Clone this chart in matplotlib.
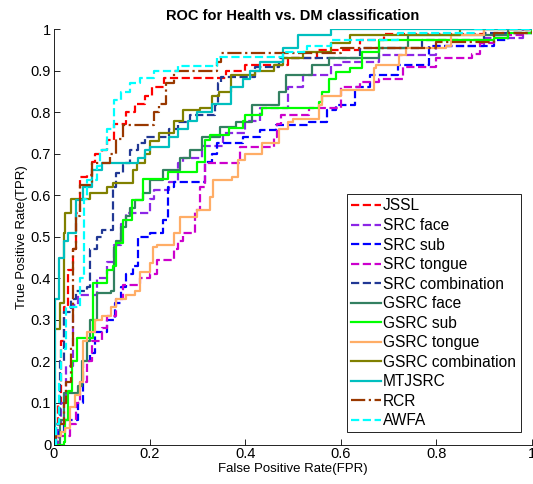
import matplotlib
matplotlib.use("Agg")
import matplotlib.pyplot as plt

plt.rcParams['font.family'] = ['Liberation Sans', 'DejaVu Sans']

# ROC operating points: at each fpr the tpr rises to the listed value
jssl_fpr = [0, 0.008, 0.015, 0.02, 0.03, 0.04, 0.045, 0.055, 0.068, 0.08, 0.085, 0.1, 0.11, 0.125, 0.15, 0.17, 0.19, 0.205, 0.23, 0.36, 0.4, 0.49, 0.55, 0.64, 0.69, 0.9, 1]
jssl_tpr = [0, 0.1, 0.25, 0.33, 0.42, 0.47, 0.557, 0.644, 0.65, 0.68, 0.7, 0.71, 0.733, 0.773, 0.8, 0.82, 0.84, 0.86, 0.882, 0.9, 0.913, 0.93, 0.95, 0.973, 0.988, 1.0, 1]

src_face_fpr = [0, 0.008, 0.015, 0.025, 0.04, 0.05, 0.09, 0.11, 0.125, 0.14, 0.15, 0.2, 0.21, 0.24, 0.26, 0.27, 0.31, 0.353, 0.4, 0.43, 0.49, 0.52, 0.58, 0.6, 0.68, 0.8, 0.9, 0.98, 1]
src_face_tpr = [0, 0.05, 0.1, 0.19, 0.336, 0.36, 0.4, 0.44, 0.48, 0.53, 0.557, 0.59, 0.613, 0.632, 0.678, 0.69, 0.72, 0.75, 0.78, 0.81, 0.86, 0.89, 0.913, 0.92, 0.937, 0.96, 0.98, 1.0, 1]

src_sub_fpr = [0, 0.01, 0.02, 0.05, 0.06, 0.075, 0.085, 0.11, 0.127, 0.14, 0.15, 0.165, 0.175, 0.2, 0.228, 0.238, 0.25, 0.315, 0.33, 0.34, 0.395, 0.43, 0.465, 0.534, 0.57, 0.59, 0.63, 0.66, 0.72, 0.785, 0.92, 0.95, 1]
src_sub_tpr = [0, 0.03, 0.06, 0.1, 0.2, 0.22, 0.27, 0.3, 0.34, 0.38, 0.41, 0.43, 0.5, 0.51, 0.54, 0.62, 0.632, 0.68, 0.7, 0.725, 0.74, 0.757, 0.77, 0.776, 0.805, 0.817, 0.86, 0.89, 0.913, 0.96, 0.975, 0.99, 1]

src_tongue_fpr = [0, 0.01, 0.033, 0.045, 0.054, 0.07, 0.08, 0.1, 0.11, 0.13, 0.145, 0.18, 0.2, 0.215, 0.25, 0.26, 0.27, 0.295, 0.305, 0.315, 0.39, 0.46, 0.467, 0.475, 0.534, 0.6, 0.64, 0.68, 0.73, 0.8, 0.875, 0.89, 0.92, 0.98, 1]
src_tongue_tpr = [0, 0.02, 0.05, 0.1, 0.15, 0.2, 0.25, 0.28, 0.31, 0.35, 0.385, 0.4, 0.41, 0.445, 0.47, 0.49, 0.51, 0.565, 0.62, 0.678, 0.716, 0.74, 0.773, 0.793, 0.81, 0.86, 0.872, 0.88, 0.908, 0.93, 0.94, 0.966, 0.985, 1.0, 1]

src_comb_fpr = [0, 0.005, 0.012, 0.02, 0.035, 0.045, 0.07, 0.075, 0.09, 0.1, 0.124, 0.13, 0.145, 0.16, 0.175, 0.19, 0.24, 0.26, 0.284, 0.336, 0.343, 0.35, 0.42, 0.47, 0.64, 0.77, 0.9, 1]
src_comb_tpr = [0, 0.05, 0.2, 0.32, 0.35, 0.37, 0.38, 0.47, 0.5, 0.517, 0.62, 0.654, 0.678, 0.71, 0.725, 0.74, 0.76, 0.777, 0.793, 0.817, 0.87, 0.885, 0.91, 0.93, 0.955, 0.975, 0.99, 1]

gsrc_face_fpr = [0, 0.012, 0.02, 0.05, 0.058, 0.068, 0.075, 0.09, 0.12, 0.125, 0.13, 0.14, 0.15, 0.16, 0.17, 0.186, 0.2, 0.228, 0.263, 0.284, 0.31, 0.347, 0.38, 0.415, 0.47, 0.486, 0.54, 0.576, 0.68, 0.74, 0.95, 1]
gsrc_face_tpr = [0, 0.06, 0.125, 0.14, 0.2, 0.25, 0.3, 0.365, 0.37, 0.476, 0.49, 0.524, 0.55, 0.57, 0.589, 0.605, 0.637, 0.66, 0.69, 0.71, 0.74, 0.765, 0.777, 0.817, 0.85, 0.89, 0.913, 0.93, 0.955, 0.985, 1.0, 1]

gsrc_sub_fpr = [0, 0.02, 0.023, 0.03, 0.037, 0.048, 0.082, 0.11, 0.124, 0.13, 0.145, 0.163, 0.186, 0.238, 0.3, 0.315, 0.326, 0.367, 0.395, 0.4, 0.436, 0.555, 0.56, 0.576, 0.59, 0.62, 0.645, 0.68, 0.92, 0.95, 1]
gsrc_sub_tpr = [0, 0.005, 0.06, 0.13, 0.2, 0.257, 0.39, 0.42, 0.43, 0.486, 0.54, 0.589, 0.64, 0.656, 0.68, 0.733, 0.745, 0.762, 0.78, 0.793, 0.81, 0.825, 0.85, 0.88, 0.897, 0.906, 0.944, 0.973, 0.98, 0.99, 1]

gsrc_tongue_fpr = [0, 0.003, 0.015, 0.023, 0.033, 0.044, 0.054, 0.06, 0.07, 0.085, 0.1, 0.12, 0.13, 0.15, 0.17, 0.18, 0.2, 0.207, 0.215, 0.25, 0.263, 0.3, 0.326, 0.332, 0.373, 0.385, 0.4, 0.436, 0.47, 0.49, 0.5, 0.555, 0.56, 0.6, 0.67, 0.674, 0.722, 0.737, 0.82, 0.83, 0.9, 1]
gsrc_tongue_tpr = [0, 0.02, 0.03, 0.04, 0.09, 0.12, 0.15, 0.25, 0.27, 0.3, 0.31, 0.33, 0.35, 0.36, 0.37, 0.415, 0.437, 0.476, 0.48, 0.51, 0.548, 0.565, 0.596, 0.637, 0.644, 0.685, 0.7, 0.725, 0.76, 0.777, 0.785, 0.817, 0.84, 0.853, 0.906, 0.913, 0.937, 0.955, 0.96, 0.985, 1.0, 1]

gsrc_comb_fpr = [0, 0, 0.0125, 0.02, 0.022, 0.035, 0.075, 0.11, 0.124, 0.165, 0.173, 0.19, 0.2, 0.22, 0.25, 0.27, 0.305, 0.33, 0.345, 0.37, 0.42, 0.46, 0.48, 0.52, 0.58, 0.62, 0.85, 1]
gsrc_comb_tpr = [0, 0.277, 0.34, 0.51, 0.557, 0.59, 0.605, 0.62, 0.63, 0.66, 0.678, 0.7, 0.73, 0.75, 0.78, 0.805, 0.81, 0.84, 0.85, 0.889, 0.9, 0.913, 0.93, 0.945, 0.966, 0.985, 1.0, 1]

mtjsrc_fpr = [0, 0.003, 0.01, 0.02, 0.03, 0.045, 0.06, 0.08, 0.1, 0.175, 0.19, 0.2, 0.24, 0.26, 0.28, 0.3, 0.33, 0.37, 0.395, 0.41, 0.43, 0.48, 0.51, 0.58, 1]
mtjsrc_tpr = [0, 0.35, 0.45, 0.49, 0.51, 0.589, 0.62, 0.66, 0.678, 0.69, 0.71, 0.716, 0.74, 0.76, 0.78, 0.8, 0.82, 0.86, 0.88, 0.9, 0.92, 0.954, 0.985, 1.0, 1]

rcr_fpr = [0, 0.005, 0.02, 0.025, 0.035, 0.04, 0.045, 0.054, 0.08, 0.117, 0.13, 0.145, 0.21, 0.22, 0.235, 0.25, 0.34, 0.35, 0.6, 0.8, 0.92, 1]
rcr_tpr = [0, 0.05, 0.1, 0.15, 0.236, 0.47, 0.55, 0.625, 0.677, 0.7, 0.735, 0.77, 0.8, 0.82, 0.87, 0.9, 0.92, 0.943, 0.955, 0.97, 0.99, 1]

awfa_fpr = [0, 0.005, 0.01, 0.015, 0.025, 0.055, 0.062, 0.07, 0.09, 0.096, 0.11, 0.125, 0.14, 0.16, 0.18, 0.21, 0.26, 0.34, 0.48, 0.53, 0.58, 0.72, 0.88, 1]
awfa_tpr = [0, 0.05, 0.15, 0.23, 0.33, 0.4, 0.59, 0.637, 0.67, 0.71, 0.76, 0.83, 0.85, 0.87, 0.882, 0.9, 0.911, 0.932, 0.945, 0.96, 0.975, 0.99, 1.0, 1]

curves = [
    ('JSSL', jssl_fpr, jssl_tpr, (1.0, 0.0, 0.0), '--'),
    ('SRC face', src_face_fpr, src_face_tpr, (0.55, 0.15, 0.9), '--'),
    ('SRC sub', src_sub_fpr, src_sub_tpr, (0.0, 0.0, 1.0), '--'),
    ('SRC tongue', src_tongue_fpr, src_tongue_tpr, (0.8, 0.0, 0.8), '--'),
    ('SRC combination', src_comb_fpr, src_comb_tpr, (0.13, 0.22, 0.58), '--'),
    ('GSRC face', gsrc_face_fpr, gsrc_face_tpr, (0.2, 0.5, 0.38), '-'),
    ('GSRC sub', gsrc_sub_fpr, gsrc_sub_tpr, (0.0, 1.0, 0.0), '-'),
    ('GSRC tongue', gsrc_tongue_fpr, gsrc_tongue_tpr, (1.0, 0.68, 0.4), '-'),
    ('GSRC combination', gsrc_comb_fpr, gsrc_comb_tpr, (0.5, 0.5, 0.0), '-'),
    ('MTJSRC', mtjsrc_fpr, mtjsrc_tpr, (0.0, 0.75, 0.75), '-'),
    ('RCR', rcr_fpr, rcr_tpr, (0.6, 0.22, 0.0), '-.'),
    ('AWFA', awfa_fpr, awfa_tpr, (0.0, 1.0, 1.0), '--'),
]

fig = plt.figure(figsize=(5.33, 4.84), dpi=100)
ax = fig.add_axes([0.1013, 0.0816, 0.897, 0.858])

for name, fpr, tpr, color, ls in curves:
    ax.plot(fpr, tpr, drawstyle='steps-post', color=color, linestyle=ls,
            linewidth=1.6, label=name)

ax.set_xlim(0, 1)
ax.set_ylim(0, 1)
ax.set_xticks([0, 0.2, 0.4, 0.6, 0.8, 1])
ax.set_xticklabels(['0', '0.2', '0.4', '0.6', '0.8', '1'])
ax.set_yticks([i / 10 for i in range(11)])
ax.set_yticklabels(['0'] + ['0.%d' % i for i in range(1, 10)] + ['1'])
ax.tick_params(direction='in', length=4, width=0.6, labelsize=10.5, pad=2)
ax.spines['top'].set_visible(False)
ax.spines['right'].set_visible(False)
for s in ('left', 'bottom'):
    ax.spines[s].set_linewidth(0.6)

ax.set_title('ROC for Health vs. DM classification', fontsize=10.5,
             fontweight='bold', pad=7)
ax.set_xlabel('False Positive Rate(FPR)', fontsize=9.5, labelpad=1)
ax.set_ylabel('True Positive Rate(TPR)', fontsize=9.5, labelpad=2)

leg = ax.legend(loc='lower left', bbox_to_anchor=(0.612, 0.029, 0.365, 0.572),
                mode='expand', fontsize=11.2, frameon=True, fancybox=False,
                borderaxespad=0, handlelength=1.95, handletextpad=0.12,
                labelspacing=0.29, borderpad=0.28)
leg.get_frame().set_edgecolor('black')
leg.get_frame().set_linewidth(0.6)
leg.get_frame().set_alpha(1)

fig.savefig('out.png', dpi=100)
